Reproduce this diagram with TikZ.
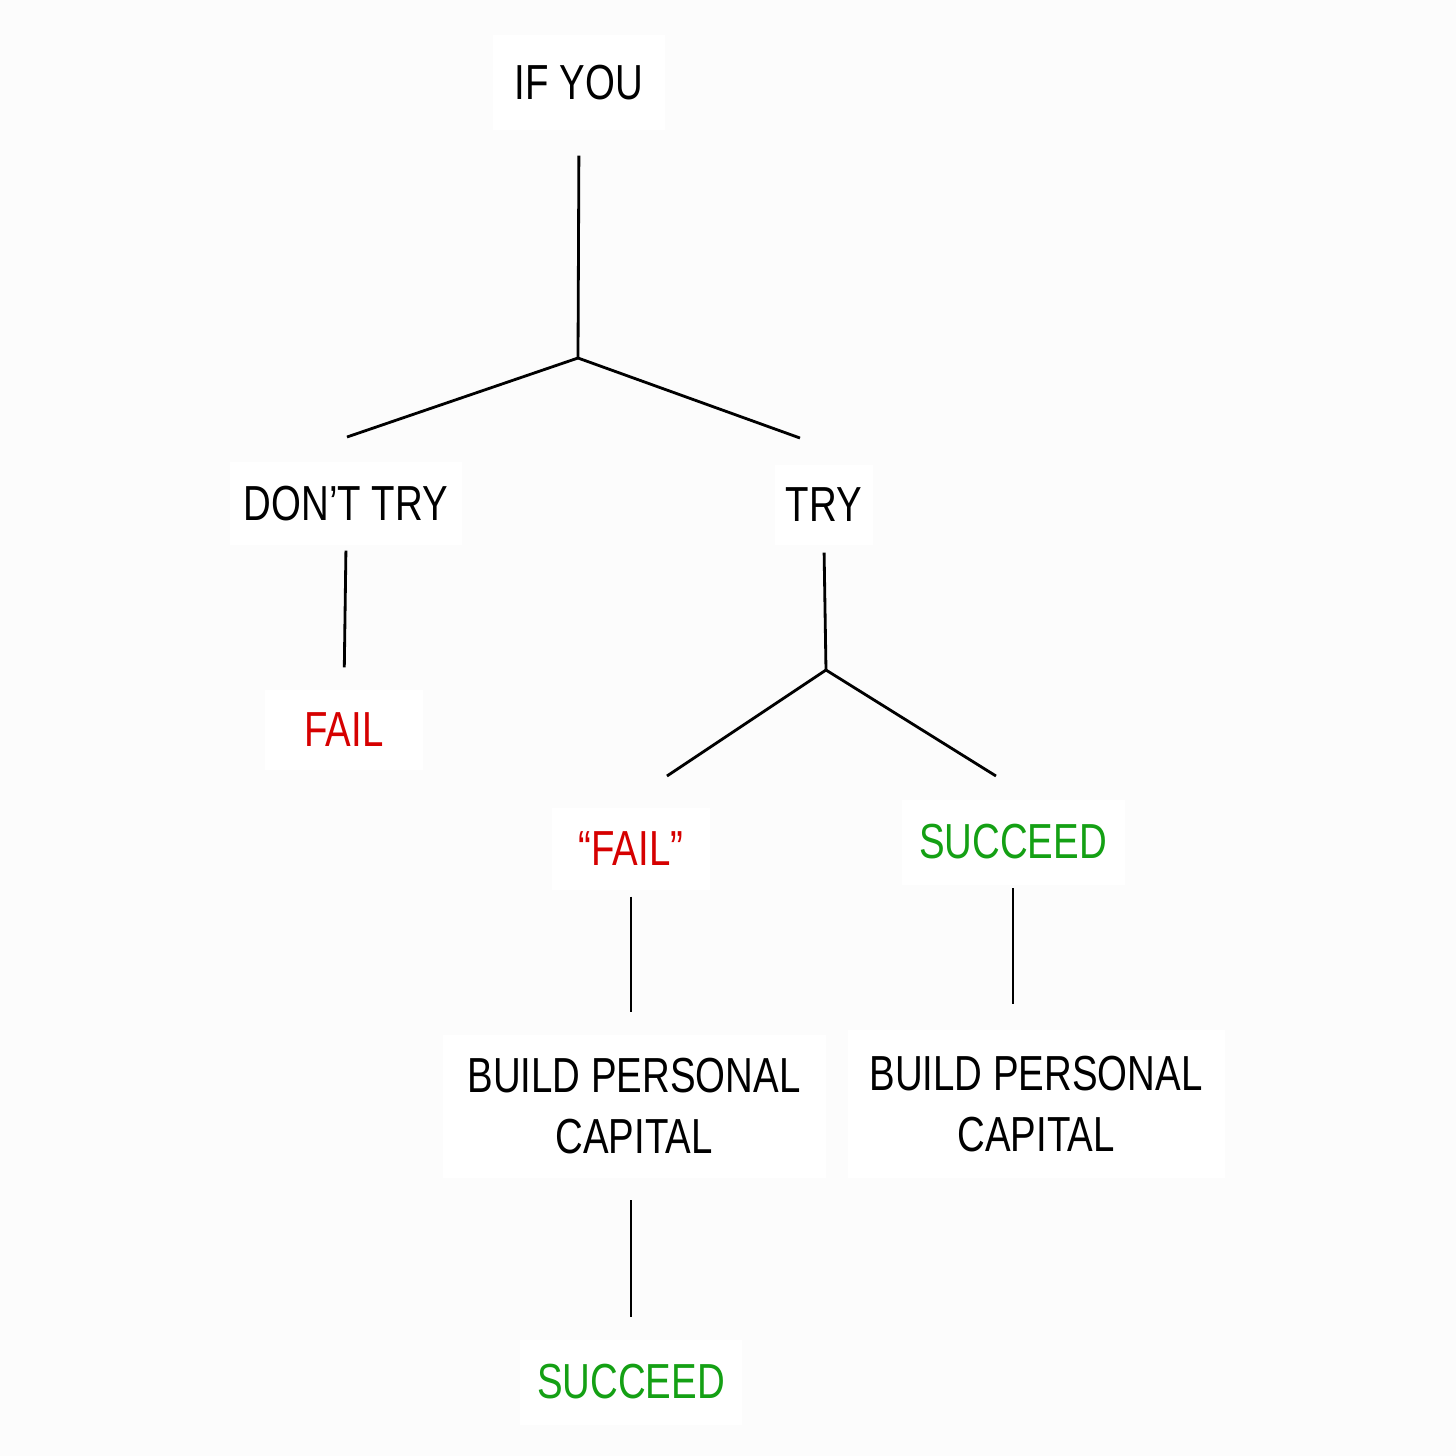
\documentclass[tikz,border=0pt]{standalone}
\usepackage{fontspec}
\setmainfont[FakeStretch=0.78]{Liberation Sans}
\definecolor{bgcol}{RGB}{252,252,252}
\definecolor{redtxt}{RGB}{214,0,0}
\definecolor{greentxt}{RGB}{20,160,20}
\begin{document}
\begin{tikzpicture}[x=0.01cm,y=-0.01cm,
  box/.style={fill=white, inner sep=0pt, align=center, font=\fontsize{14}{17.6}\selectfont},
  conn/.style={draw=black, line width=0.8pt}]
\fill[bgcol] (0,0) rectangle (1456,1456);
\useasboundingbox (0,0) rectangle (1456,1456);
% nodes
\node[box, minimum width=172*0.01cm, minimum height=95*0.01cm] (ifyou) at (579,82.5) {IF YOU};
\node[box, minimum width=232*0.01cm, minimum height=83*0.01cm] (dont) at (346,503.5) {DON’T TRY};
\node[box, minimum width=98*0.01cm, minimum height=80*0.01cm] (try) at (824,505) {TRY};
\node[box, text=redtxt, minimum width=158*0.01cm, minimum height=80*0.01cm] (fail1) at (344,730) {FAIL};
\node[box, text=redtxt, minimum width=158*0.01cm, minimum height=82*0.01cm] (fail2) at (631,849) {“FAIL”};
\node[box, text=greentxt, minimum width=223*0.01cm, minimum height=85*0.01cm] (succ1) at (1013,842) {SUCCEED};
\node[box, minimum width=383*0.01cm, minimum height=143*0.01cm] (bpc1) at (634,1106) {BUILD PERSONAL\\CAPITAL};
\node[box, minimum width=377*0.01cm, minimum height=148*0.01cm] (bpc2) at (1036,1104) {BUILD PERSONAL\\CAPITAL};
\node[box, text=greentxt, minimum width=222*0.01cm, minimum height=85*0.01cm] (succ2) at (631,1382) {SUCCEED};
% junctions and free ends
\coordinate (j1) at (578,358);
\coordinate (e1l) at (347,437);
\coordinate (e1r) at (800,438);
\coordinate (j2) at (826,670);
\coordinate (e2l) at (667,776);
\coordinate (e2r) at (996,776);
% connectors
\draw[conn, shorten <=0.25cm] (ifyou.south) -- (j1);
\draw[conn] (j1) -- (e1l);
\draw[conn] (j1) -- (e1r);
\draw[conn, shorten <=0.05cm, shorten >=0.22cm] (dont.south) -- (fail1.north);
\draw[conn, shorten <=0.07cm] (try.south) -- (j2);
\draw[conn] (j2) -- (e2l);
\draw[conn] (j2) -- (e2r);
\draw[conn, shorten <=0.06cm, shorten >=0.22cm] (fail2.south) -- (fail2.south |- bpc1.north);
\draw[conn, shorten <=0.03cm, shorten >=0.25cm] (succ1.south) -- (succ1.south |- bpc2.north);
\draw[conn, shorten <=0.22cm, shorten >=0.22cm] (succ2.north |- bpc1.south) -- (succ2.north);
\end{tikzpicture}
\end{document}
